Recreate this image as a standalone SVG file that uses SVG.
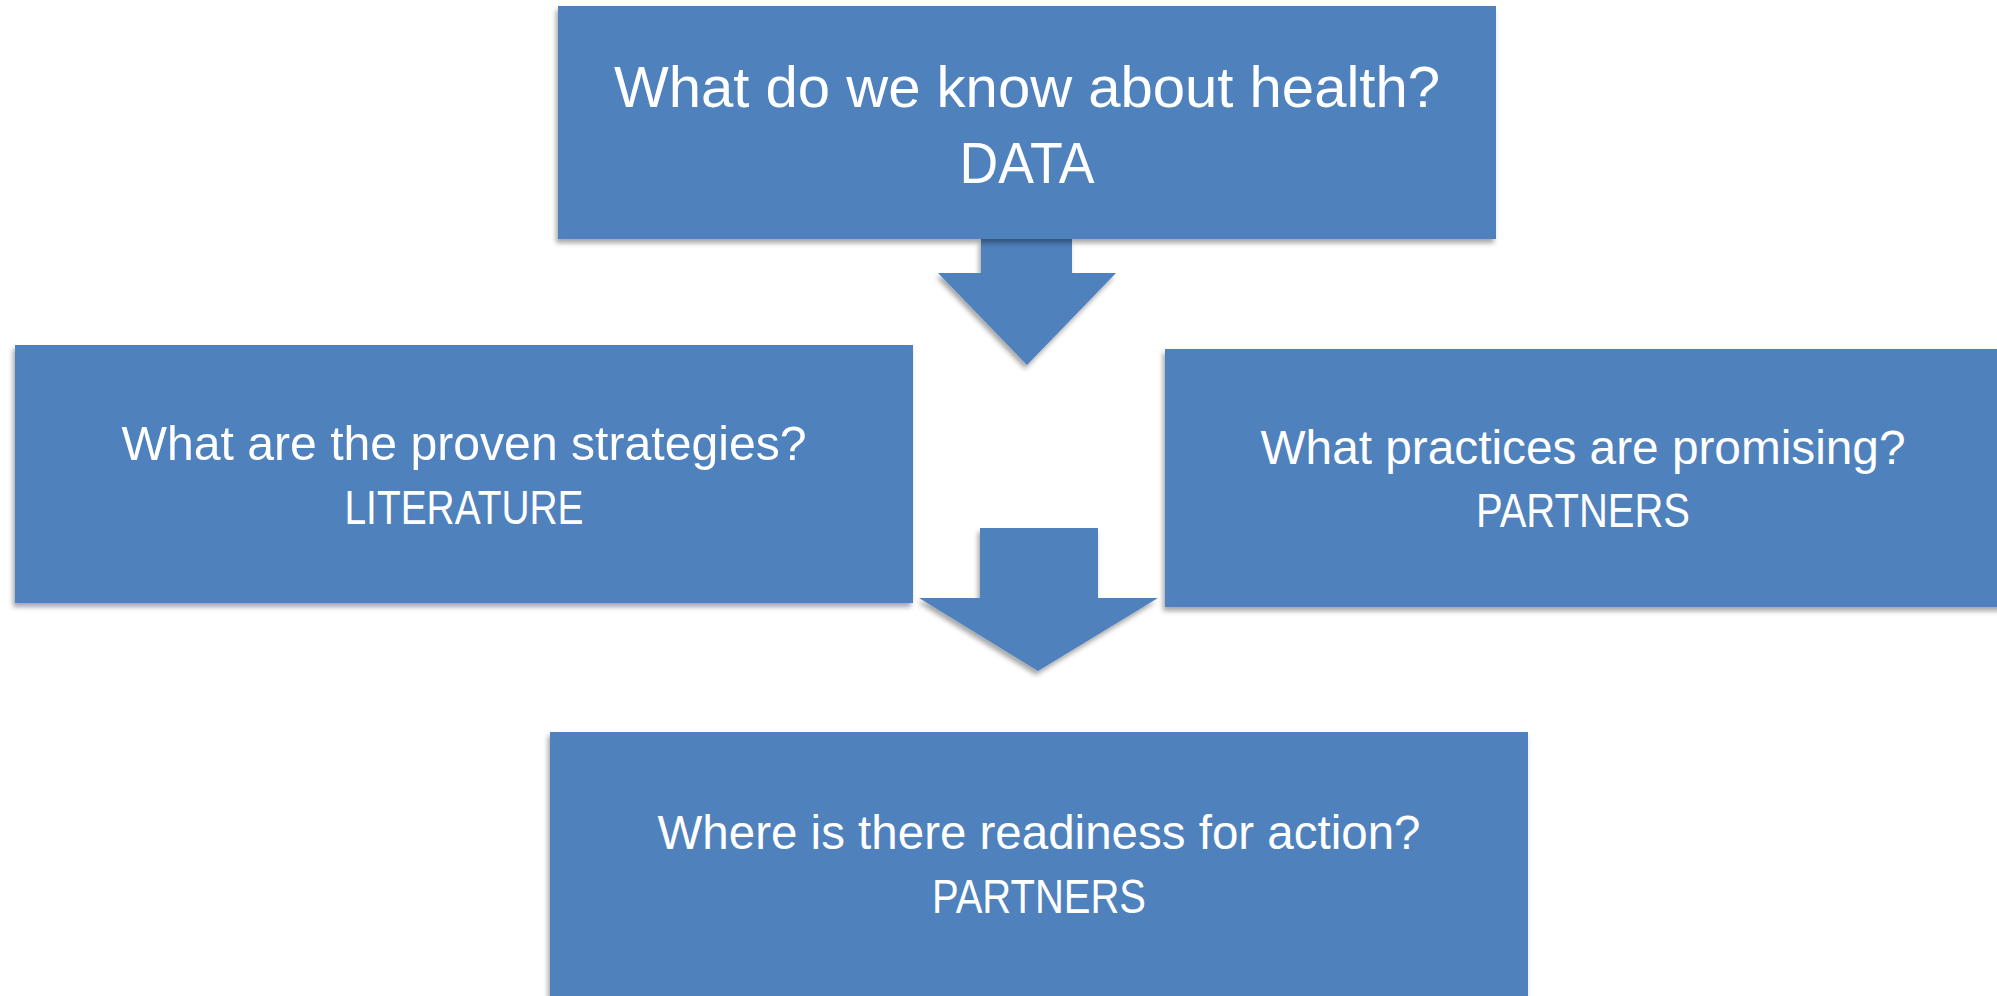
<svg xmlns="http://www.w3.org/2000/svg" width="1997" height="996" viewBox="0 0 1997 996">
  <defs>
    <filter id="sh" x="-5%" y="-5%" width="110%" height="115%">
      <feDropShadow dx="-2" dy="4" stdDeviation="2.5" flood-color="#000" flood-opacity="0.35"/>
    </filter>
    <style>
      .box { fill: #4F81BD; filter: url(#sh); }
      .arrow { fill: #4F81BD; filter: url(#sh); }
      .t { fill: #FFFFFF; font-family: "Liberation Sans", Arial, sans-serif; text-anchor: middle; }
      .big { font-size: 58px; }
      .mid { font-size: 48px; }
    </style>
  </defs>
  <rect width="1997" height="996" fill="#FFFFFF"/>
  <g id="connectors">
    <polygon class="arrow" points="981,239 1072,239 1072,273 1116,273 1027,365 938,273 981,273"/>
    <polygon class="arrow" points="980,528 1098,528 1098,598 1158,598 1038,671 919,598 980,598"/>
  </g>
  <g id="node-data">
    <rect class="box" x="558" y="6" width="938" height="233"/>
    <text class="t big" x="1027" y="107" textLength="826" lengthAdjust="spacingAndGlyphs">What do we know about health?</text>
    <text class="t big" x="1027" y="183" textLength="135" lengthAdjust="spacingAndGlyphs">DATA</text>
  </g>
  <g id="node-literature">
    <rect class="box" x="15" y="345" width="898" height="258"/>
    <text class="t mid" x="464" y="460" textLength="685" lengthAdjust="spacingAndGlyphs">What are the proven strategies?</text>
    <text class="t mid" x="464" y="524" textLength="239" lengthAdjust="spacingAndGlyphs">LITERATURE</text>
  </g>
  <g id="node-promising">
    <rect class="box" x="1165" y="349" width="840" height="258"/>
    <text class="t mid" x="1583" y="464" textLength="645" lengthAdjust="spacingAndGlyphs">What practices are promising?</text>
    <text class="t mid" x="1583" y="527" textLength="214" lengthAdjust="spacingAndGlyphs">PARTNERS</text>
  </g>
  <g id="node-readiness">
    <rect class="box" x="550" y="732" width="978" height="270"/>
    <text class="t mid" x="1039" y="849" textLength="763" lengthAdjust="spacingAndGlyphs">Where is there readiness for action?</text>
    <text class="t mid" x="1039" y="913" textLength="214" lengthAdjust="spacingAndGlyphs">PARTNERS</text>
  </g>
</svg>
